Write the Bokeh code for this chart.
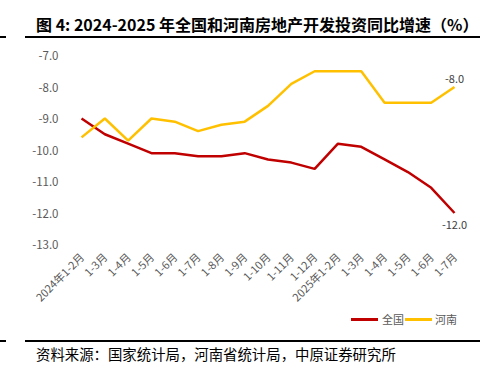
from bokeh.plotting import figure
from bokeh.models import (Range1d, FixedTicker, ColumnDataSource, NumeralTickFormatter, Div)
from bokeh.layouts import column
from bokeh.core.properties import value
from bokeh.embed import file_html
from bokeh.resources import INLINE
import math

categories = ["2024年1-2月", "1-3月", "1-4月", "1-5月", "1-6月", "1-7月", "1-8月", "1-9月",
              "1-10月", "1-11月", "1-12月", "2025年1-2月", "1-3月", "1-4月", "1-5月", "1-6月", "1-7月"]
national = [-9.0, -9.5, -9.8, -10.1, -10.1, -10.2, -10.2, -10.1, -10.3, -10.4, -10.6,
            -9.8, -9.9, -10.3, -10.7, -11.2, -12.0]
henan = [-9.6, -9.0, -9.7, -9.0, -9.1, -9.4, -9.2, -9.1, -8.6, -7.9, -7.5,
         -7.5, -7.5, -8.5, -8.5, -8.5, -8.0]
y_ticks = [-13.0, -12.0, -11.0, -10.0, -9.0, -8.0, -7.0]
series_names = ["全国", "河南"]
series_colors = ["#C00000", "#FFC000"]

title_text = "图 4: 2024-2025 年全国和河南房地产开发投资同比增速（%）"
source_text = "资料来源：国家统计局，河南省统计局，中原证券研究所"

FONT = "Noto Sans CJK SC"
W = 492

# header (HTML block)
hdr_html = (
    f'<div style="position:relative;width:{W}px;height:42px;margin:0;padding:0;">'
    f'<div style="position:absolute;left:36px;top:13px;line-height:22px;white-space:nowrap;'
    f'font-family:\'{FONT}\';font-weight:bold;font-size:16px;color:#000;">{title_text}</div>'
    '<div style="position:absolute;left:25px;top:36px;width:455px;height:2px;background:#000;"></div>'
    '<div style="position:absolute;left:0px;top:36px;width:6px;height:2px;background:#000;"></div>'
    '</div>'
)
hdr = Div(text=hdr_html, width=W, height=42, margin=0,
          styles={"padding": "0", "margin": "0", "overflow": "visible"})

# main chart
xs = list(range(len(categories)))
p = figure(width=W, height=270, x_range=Range1d(-0.43, 16.6), y_range=Range1d(-13, -7),
           output_backend="svg", toolbar_location=None,
           min_border_left=71, min_border_right=24, min_border_top=13, min_border_bottom=60)
p.outline_line_color = None
p.background_fill_color = "white"

p.line(xs, national, line_color=series_colors[0], line_width=2.5)
p.line(xs, henan, line_color=series_colors[1], line_width=2.5)

p.xgrid.visible = False
p.ygrid.ticker = FixedTicker(ticks=[y_ticks[-1]])
p.ygrid.grid_line_color = "#d9d9d9"

p.yaxis.ticker = FixedTicker(ticks=y_ticks)
p.yaxis.formatter = NumeralTickFormatter(format="0.0")
p.xaxis.ticker = FixedTicker(ticks=xs)
p.xaxis.major_label_overrides = {i: c for i, c in enumerate(categories)}
p.xaxis.major_label_orientation = math.pi / 4
for ax in (p.xaxis, p.yaxis):
    ax.axis_line_color = None
    ax.major_tick_line_color = None
    ax.minor_tick_line_color = None
    ax.major_label_text_font = FONT
    ax.major_label_text_color = "#595959"
    ax.major_label_text_font_size = "11px"
p.yaxis.major_label_text_font_size = "11.5px"
p.yaxis.major_label_standoff = 7
p.xaxis.major_label_standoff = 4

# end labels
lab = ColumnDataSource(dict(x=[xs[-1], xs[-1]], y=[henan[-1], national[-1]],
                            t=[f"{henan[-1]:.1f}", f"{national[-1]:.1f}"],
                            yo=[-8, 12]))
p.text(x="x", y="y", text="t", y_offset="yo", source=lab, text_align="center",
       text_baseline="middle", text_font=value(FONT), text_font_size="11px", text_color="#404040")

# footer (HTML block): legend, rule, source
leg_items = ""
for (line_left, text_left), name, colr in zip([(351, 382), (405, 435)], series_names, series_colors):
    leg_items += (
        f'<div style="position:absolute;left:{line_left}px;top:6px;width:27px;height:3px;background:{colr};"></div>'
        f'<div style="position:absolute;left:{text_left}px;top:0px;line-height:15px;white-space:nowrap;'
        f'font-family:\'{FONT}\';font-size:11px;color:#595959;">{name}</div>'
    )
ftr_html = (
    f'<div style="position:relative;width:{W}px;height:63px;margin:0;padding:0;">'
    + leg_items +
    '<div style="position:absolute;left:25px;top:28px;width:455px;height:2px;background:#000;"></div>'
    '<div style="position:absolute;left:0px;top:28px;width:6px;height:2px;background:#000;"></div>'
    f'<div style="position:absolute;left:36px;top:33px;line-height:18px;white-space:nowrap;'
    f'font-family:\'{FONT}\';font-size:14.4px;color:#000;">{source_text}</div>'
    '</div>'
)
ftr = Div(text=ftr_html, width=W, height=63, margin=0,
          styles={"padding": "0", "margin": "0", "overflow": "visible"})

layout = column(hdr, p, ftr, spacing=0)
open("out.html", "w").write(file_html(layout, INLINE))
